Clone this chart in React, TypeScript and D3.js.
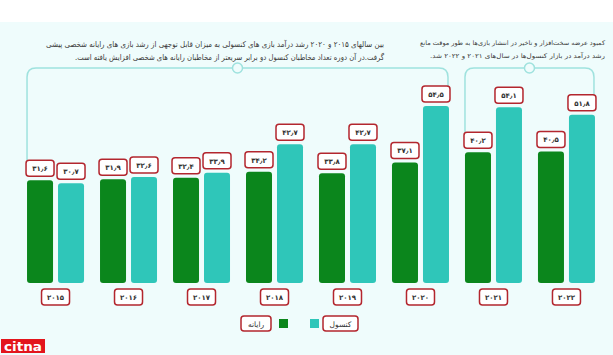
import React from 'react';
import * as d3 from 'd3';

const years = ['2015', '2016', '2017', '2018', '2019', '2020', '2021', '2022'];
const pcValues = [31.6, 31.9, 32.4, 34.2, 33.8, 37.1, 40.2, 40.5];
const consoleValues = [30.7, 32.6, 33.9, 42.7, 42.7, 54.5, 54.1, 51.8];
const seriesKeys = ['pc', 'console'];
const seriesNames = ['رایانه', 'کنسول'];
const seriesColors = ['#0b861c', '#2fc6b9'];
const noteLeft = [
  'بین  سالهای ۲۰۱۵ و ۲۰۲۰ رشد درآمد بازی های کنسولی به میزان قابل توجهی از رشد بازی های رایانه شخصی پیشی',
  'گرفت.در آن دوره تعداد مخاطبان کنسول دو برابر سریعتر از مخاطبان رایانه های شخصی افزایش یافته است.',
];
const noteRight = [
  'کمبود عرضه سخت‌افزار و تاخیر در انتشار بازی‌ها به طور موقت مانع',
  'رشد درآمد در بازار کنسول‌ها در سال‌های ۲۰۲۱ و ۲۰۲۲ شد.',
];

const fa = (s: string) => s.replace(/[0-9]/g, (d) => '۰۱۲۳۴۵۶۷۸۹'[+d]).replace('.', '٫');

const W = 613;
const H = 355;
const BG = '#effcfc';
const LINE = '#9fe2de';
const BOX = '#b3262e';
const FONT = 'DejaVu Sans, Noto Sans, sans-serif';

export default function App() {
  const x0 = d3.scaleBand<string>().domain(years).range([19, 19 + 73 * 8]).paddingInner(0.219).paddingOuter(0.11);
  const x1 = d3.scaleBand<string>().domain(seriesKeys).range([0, x0.bandwidth()]).paddingInner(0.161);
  const y = d3.scaleLinear().domain([0, 60]).range([283, 283 - 60 * 3.25]);

  const bars: any[] = [];
  years.forEach((yr, i) => {
    [pcValues[i], consoleValues[i]].forEach((v, s) => {
      const bx = (x0(yr) as number) + (x1(seriesKeys[s]) as number);
      bars.push({ yr, i, s, v, x: bx, w: x1.bandwidth(), top: y(v) });
    });
  });

  const lblW = 28;
  const lblH = 16;
  const labelTop = (b: any) => b.top - 4 - lblH;

  const b2015 = bars[0];
  const b2020c = bars[11];
  const b2021 = bars[12];
  const b2022c = bars[15];
  const topY = 68;
  const r = 9;
  const bracket = (xl: number, yl: number, xr: number, yr: number) =>
    `M${xl},${yl} L${xl},${topY + r} Q${xl},${topY} ${xl + r},${topY} L${xr - r},${topY} Q${xr},${topY} ${xr},${topY + r} L${xr},${yr}`;
  const lx1 = b2015.x + b2015.w / 2 - lblW / 2 + 1;
  const rx1 = b2020c.x + b2020c.w / 2 + lblW / 2 - 2;
  const lx2 = b2021.x + b2021.w / 2 - lblW / 2 + 1;
  const rx2 = b2022c.x + b2022c.w / 2 + lblW / 2 - 2;

  const leftSpans = [
    [46, 384],
    [75, 384],
  ];
  const rightSpans = [
    [420, 605],
    [430, 605],
  ];

  const note = (t: string, span: number[], yy: number, key: string, fs: number) => (
    <text
      key={key}
      x={(span[0] + span[1]) / 2}
      y={yy}
      direction="rtl"
      textAnchor="middle"
      fontSize={fs}
      fill="#3a3a3a"
      textLength={span[1] - span[0]}
      lengthAdjust="spacingAndGlyphs"
    >
      {t}
    </text>
  );

  return (
    <svg width={W} height={H} style={{ position: 'absolute', left: 0, top: 0 }} fontFamily={FONT}>
      <rect x={0} y={0} width={W} height={H} fill="#ffffff" />
      <rect x={0} y={22} width={W} height={H - 22} fill={BG} />

      {noteLeft.map((t, k) => note(t, leftSpans[k], 47 + k * 13, 'l' + k, 8))}
      {noteRight.map((t, k) => note(t, rightSpans[k], 45 + k * 13, 'r' + k, 6.4))}

      <path d={bracket(lx1, labelTop(b2015), rx1, labelTop(b2020c))} fill="none" stroke={LINE} strokeWidth={1.5} />
      <path d={bracket(lx2, labelTop(b2021), rx2, labelTop(b2022c))} fill="none" stroke={LINE} strokeWidth={1.5} />
      <circle cx={(lx1 + rx1) / 2} cy={topY} r={5} fill={BG} stroke={LINE} strokeWidth={1.5} />
      <circle cx={(lx2 + rx2) / 2} cy={topY} r={5} fill={BG} stroke={LINE} strokeWidth={1.5} />

      {bars.map((b, k) => (
        <g key={k}>
          <rect x={b.x} y={b.top} width={b.w} height={y(0) - b.top} rx={3} fill={seriesColors[b.s]} />
          <rect x={b.x + b.w / 2 - lblW / 2} y={labelTop(b)} width={lblW} height={lblH} rx={3} fill="#fff" stroke={BOX} strokeWidth={1.5} />
          <text x={b.x + b.w / 2} y={labelTop(b) + lblH / 2 + 3} textAnchor="middle" fontSize={7} fontWeight="bold" fill="#333">
            {fa(String(b.v))}
          </text>
        </g>
      ))}

      {years.map((yr) => {
        const cx = (x0(yr) as number) + x0.bandwidth() / 2;
        return (
          <g key={yr}>
            <rect x={cx - 14} y={289} width={28} height={16} rx={3} fill="#fff" stroke={BOX} strokeWidth={1.5} />
            <text x={cx} y={300} textAnchor="middle" fontSize={7} fontWeight="bold" fill="#333">
              {fa(yr)}
            </text>
          </g>
        );
      })}

      <g>
        <rect x={241} y={316} width={30} height={15} rx={3} fill="#fff" stroke={BOX} strokeWidth={1.5} />
        <text x={256} y={326.5} textAnchor="middle" fontSize={7.5} fill="#333">{seriesNames[0]}</text>
        <rect x={279} y={319} width={9} height={9} fill={seriesColors[0]} />
        <rect x={310} y={319} width={9} height={9} fill={seriesColors[1]} />
        <rect x={323} y={316} width={35} height={15} rx={3} fill="#fff" stroke={BOX} strokeWidth={1.5} />
        <text x={340.5} y={326.5} textAnchor="middle" fontSize={7.5} fill="#333">{seriesNames[1]}</text>
      </g>

      <rect x={1} y={339} width={44} height={14} fill="#e3151c" />
      <text x={4} y={351} fontSize={13} fontWeight="bold" fill="#fff" fontFamily="DejaVu Sans" textLength={38} lengthAdjust="spacingAndGlyphs">
        citna
      </text>
    </svg>
  );
}
